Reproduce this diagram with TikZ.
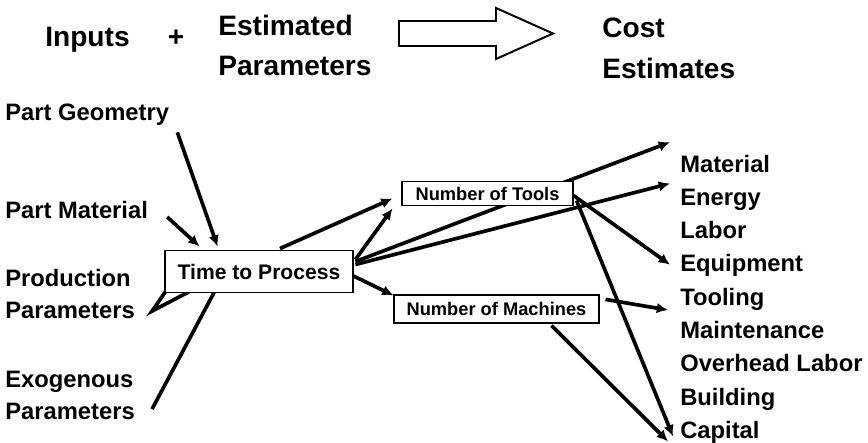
\documentclass[tikz,border=0pt]{standalone}
\usepackage{fontspec}
\setmainfont{Liberation Sans}
\usepackage{tikz}
\usetikzlibrary{arrows.meta,positioning,backgrounds}

\begin{document}
\begin{tikzpicture}[x=0.025cm,y=-0.025cm,font=\bfseries]
\tikzset{big/.style={font=\fontsize{20}{24}\selectfont\bfseries,inner sep=0pt,text height=15pt,text depth=4.3pt},
  lbl/.style={font=\fontsize{16.9}{20}\selectfont\bfseries,inner sep=0pt,text height=12.5pt,text depth=3.6pt},
  bx/.style={draw,line width=1.4pt,fill=white,inner sep=0pt},
  ar/.style={-{Latex[length=8pt,width=7.5pt]},line width=2.6pt},
  ln/.style={line width=2.6pt,line join=miter}}
\useasboundingbox (0,0) rectangle (868,442);
% heading
\node[big,anchor=base west] (inp) at (45,46) {Inputs};
\node[big,anchor=base] (plus) at (176,46) {+};
\node[big,anchor=base west] (est) at (218,35) {Estimated};
\node[big,below=9.2pt of est.south west,anchor=north west] (par) {Parameters};
\draw[line width=1.4pt] (399,21) -- (496,21) -- (496,8) -- (553,33.5) -- (496,59) -- (496,46) -- (399,46) -- cycle;
\node[big,anchor=base west] (cost) at (602,37) {Cost};
\node[big,below=9.9pt of cost.south west,anchor=north west] (ce) {Estimates};
% inputs
\node[lbl,anchor=base west] (geo) at (5,120) {Part Geometry};
\node[lbl,anchor=base west] (pm) at (5,218) {Part Material};
\node[lbl,anchor=base west] (pp1) at (5,286) {Production};
\node[lbl,below=6.5pt of pp1.south west,anchor=north west] (pp2) {Parameters};
\node[lbl,anchor=base west] (ep1) at (5,387) {Exogenous};
\node[lbl,below=6.5pt of ep1.south west,anchor=north west] (ep2) {Parameters};
% boxes
\node[bx,font=\fontsize{15}{18}\selectfont\bfseries,minimum width=4.72cm,minimum height=1.05cm] (tp) at (259,271.5) {Time to Process};
\node[bx,font=\fontsize{13}{16}\selectfont\bfseries,minimum width=4.25cm,minimum height=0.6cm] (nt) at (487.5,193.5) {Number of Tools};
\node[bx,font=\fontsize{13}{16}\selectfont\bfseries,minimum width=5.1cm,minimum height=0.68cm] (nm) at (496.5,309) {Number of Machines};
% costs
\node[lbl,anchor=base west] (mtl) at (680,172) {Material};
\node[lbl,below=7.2pt of mtl.south west,anchor=north west] (ene) {Energy};
\node[lbl,below=7.2pt of ene.south west,anchor=north west] (lab) {Labor};
\node[lbl,below=7.2pt of lab.south west,anchor=north west] (eqp) {Equipment};
\node[lbl,below=7.2pt of eqp.south west,anchor=north west] (tlg) {Tooling};
\node[lbl,below=7.2pt of tlg.south west,anchor=north west] (mnt) {Maintenance};
\node[lbl,below=7.2pt of mnt.south west,anchor=north west] (ohl) {Overhead Labor};
\node[lbl,below=7.2pt of ohl.south west,anchor=north west] (bld) {Building};
\node[lbl,below=7.2pt of bld.south west,anchor=north west] (cap) {Capital};
\begin{scope}[on background layer]
% into time to process
\draw[ar] ([shift={(8,7)}]geo.south east) -- ([shift={(54,-3)}]tp.north west);
\draw[ar] ([shift={(19,-1)}]pm.base east) -- ([shift={(36,-3)}]tp.north west);
\draw[ln] ([shift={(2,-2)}]tp.south west) -- ([shift={(17,-1)}]pp2.east) -- ([shift={(26,-2)}]tp.south west);
\draw[ln] ([shift={(17,-4)}]ep2.east) -- ([shift={(51,-2)}]tp.south west);
% out of time to process
\draw[ar] ([shift={(21,-1)}]tp.north) -- ([shift={(-9,5)}]nt.west);
\draw[ar] ([shift={(1,10)}]tp.north east) -- ([shift={(-9,2)}]nt.south west);
\draw[ar] ([shift={(1,12)}]tp.north east) -- ([shift={(-10,-12)}]mtl.north west);
\draw[ar] ([shift={(1,15)}]tp.north east) -- ([shift={(-10,-4)}]ene.north west);
\draw[ar] ([shift={(-2,4)}]tp.east) -- ([shift={(0,1)}]nm.north west);
% tools and machines
\draw[ar] ([shift={(0,2)}]nt.east) -- ([shift={(-10,-1)}]eqp.west);
\draw[ar] ([shift={(3,-6)}]nt.south east) -- ([shift={(-7,4)}]cap.west);
\draw[ar] ([shift={(6,5)}]nm.north east) -- ([shift={(-12,11)}]tlg.west);
\draw[ar] ([shift={(55,2)}]nm.south) -- ([shift={(-12,9)}]cap.west);
\end{scope}
\end{tikzpicture}
\end{document}
